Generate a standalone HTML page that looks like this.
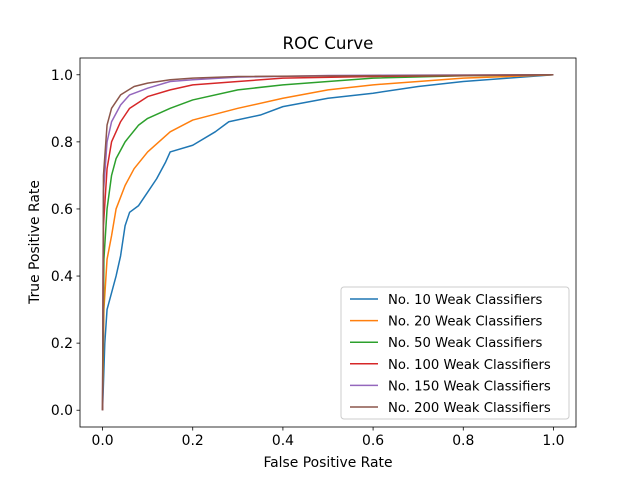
<!DOCTYPE html>
<html><head><meta charset="utf-8"><style>
body{margin:0;background:#fff}
svg{display:block;font-family:"DejaVu Sans","Liberation Sans",sans-serif}
</style></head><body>
<svg id="chart" width="640" height="480">
<rect width="640" height="480" fill="#fff"/>
<g id="plot"></g>
<g id="axes"></g>
<text x="328" y="49" text-anchor="middle" font-size="16.7">ROC Curve</text>
<text x="328" y="467" text-anchor="middle" font-size="13.9">False Positive Rate</text>
<text transform="translate(39,242) rotate(-90)" text-anchor="middle" font-size="13.9">True Positive Rate</text>
<g id="legend"></g>
</svg>
<script>
const seriesNames=["No. 10 Weak Classifiers","No. 20 Weak Classifiers","No. 50 Weak Classifiers","No. 100 Weak Classifiers","No. 150 Weak Classifiers","No. 200 Weak Classifiers"];
const colors=["#1f77b4","#ff7f0e","#2ca02c","#d62728","#9467bd","#8c564b"];
const fpr10=[0,0.005,0.01,0.02,0.03,0.04,0.05,0.06,0.08,0.1,0.12,0.14,0.15,0.2,0.25,0.28,0.35,0.4,0.5,0.6,0.7,0.8,0.9,1];
const tpr10=[0,0.2,0.3,0.35,0.4,0.46,0.55,0.59,0.61,0.65,0.69,0.74,0.77,0.79,0.83,0.86,0.88,0.905,0.93,0.945,0.965,0.98,0.99,1];
const fpr20=[0,0.003,0.01,0.02,0.03,0.05,0.07,0.1,0.15,0.2,0.3,0.4,0.5,0.6,0.7,0.8,0.9,1];
const tpr20=[0,0.3,0.45,0.52,0.6,0.67,0.72,0.77,0.83,0.865,0.9,0.93,0.955,0.97,0.98,0.99,0.995,1];
const fpr50=[0,0.003,0.01,0.02,0.03,0.05,0.08,0.1,0.15,0.2,0.3,0.4,0.5,0.6,0.8,1];
const tpr50=[0,0.45,0.6,0.7,0.75,0.8,0.85,0.87,0.9,0.925,0.955,0.97,0.98,0.99,0.997,1];
const fpr100=[0,0.002,0.01,0.02,0.04,0.06,0.1,0.15,0.2,0.3,0.4,0.6,1];
const tpr100=[0,0.55,0.72,0.8,0.86,0.9,0.935,0.955,0.97,0.98,0.99,0.995,1];
const fpr150=[0,0.002,0.01,0.02,0.04,0.06,0.1,0.15,0.2,0.3,0.5,1];
const tpr150=[0,0.65,0.8,0.86,0.91,0.94,0.96,0.98,0.985,0.993,0.998,1];
const fpr200=[0,0.002,0.01,0.02,0.04,0.07,0.1,0.15,0.2,0.3,1];
const tpr200=[0,0.7,0.85,0.9,0.94,0.965,0.975,0.985,0.99,0.995,1];
const xTicks=[0,0.2,0.4,0.6,0.8,1.0];
const yTicks=[0,0.2,0.4,0.6,0.8,1.0];
const tickLabels=["0.0","0.2","0.4","0.6","0.8","1.0"];

const L=80,R=576,T=58,B=427;
const sx=v=>L+(v+0.05)/1.1*(R-L);
const sy=v=>B-(v+0.05)/1.1*(B-T);
const NS="http://www.w3.org/2000/svg";
function mk(tag,attrs,parent){const e=document.createElementNS(NS,tag);for(const k in attrs)e.setAttribute(k,attrs[k]);parent.appendChild(e);return e;}
const plot=document.getElementById('plot'),axes=document.getElementById('axes'),legend=document.getElementById('legend');
const xs=[fpr10,fpr20,fpr50,fpr100,fpr150,fpr200],ys=[tpr10,tpr20,tpr50,tpr100,tpr150,tpr200];
xs.forEach((xa,i)=>{
  const d=xa.map((x,j)=>(j?'L':'M')+sx(x).toFixed(2)+','+sy(ys[i][j]).toFixed(2)).join('');
  const p=mk('path',{d:d,fill:'none',stroke:colors[i],'stroke-width':1.5,'stroke-linejoin':'round'},plot);
  
  
});
const frame=mk('rect',{x:L,y:T,width:R-L,height:B-T,fill:'none',stroke:'#000','stroke-width':0.8},axes);


xTicks.forEach((v,i)=>{
  const x=sx(v);
  const t=mk('line',{x1:x,x2:x,y1:B,y2:B+3.5,stroke:'#000','stroke-width':0.8},axes);
  
  
  const tx=mk('text',{x:x,y:B+18,'text-anchor':'middle','font-size':13.9},axes);
  tx.textContent=tickLabels[i];
  
  
});
yTicks.forEach((v,i)=>{
  const y=sy(v);
  const t=mk('line',{x1:L-3.5,x2:L,y1:y,y2:y,stroke:'#000','stroke-width':0.8},axes);
  
  
  const tx=mk('text',{x:L-7,y:y+5,'text-anchor':'end','font-size':13.9},axes);
  tx.textContent=tickLabels[i];
  
  
});
const lb=mk('rect',{x:341,y:287,width:228,height:132,rx:3,fill:'#fff','fill-opacity':0.8,stroke:'#ccc','stroke-width':1},legend);


seriesNames.forEach((n,i)=>{
  const y=299+i*21.6;
  const l=mk('line',{x1:350,x2:378,y1:y,y2:y,stroke:colors[i],'stroke-width':1.5},legend);
  
  
  const t=mk('text',{x:388,y:y+5,'font-size':13.2},legend);
  t.textContent=n;
  
  
});
</script>
</body></html>
